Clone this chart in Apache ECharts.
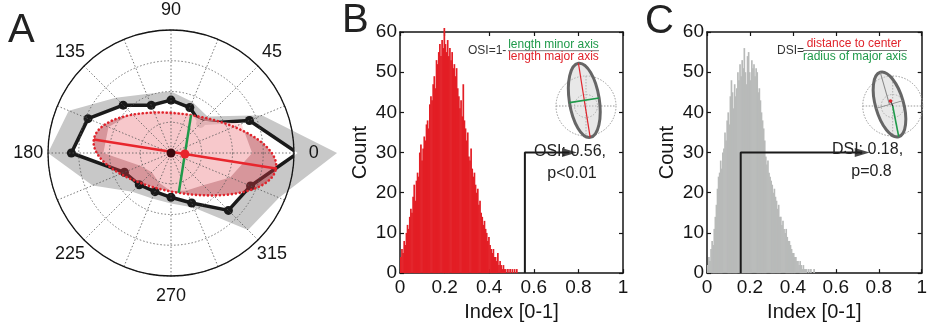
<!DOCTYPE html>
<html><head><meta charset="utf-8">
<script src="https://cdn.jsdelivr.net/npm/echarts@6/dist/echarts.min.js"></script>
<style>html,body{margin:0;padding:0;background:#fff}#c{width:930px;height:327px}</style>
</head><body><div id="c"></div>
<script>
// ================= Panel A : polar tuning plot =================
const directions = [0, 22.5, 45, 67.5, 90, 112.5, 135, 157.5, 180, 202.5, 225, 247.5, 270, 292.5, 315, 337.5];
const responseR  = [1.03, 0.69, 0.34, 0.40, 0.43, 0.42, 0.55, 0.73, 0.81, 0.41, 0.365, 0.34, 0.36, 0.44, 0.66, 0.70];
const bandR      = [1.35, 0.80, 0.42, 0.45, 0.50, 0.52, 0.635, 0.90, 1.00, 0.69, 0.445, 0.40, 0.41, 0.48, 0.886, 0.95];
const coreR      = [0.66, 0.62, 0.37, 0.35, 0.34, 0.37, 0.45, 0.55, 0.55, 0.27, 0.22, 0.26, 0.31, 0.33, 0.37, 0.52];
const ellipseCenter = [0.113, -0.008];   // x, y in radius units
const ellipseSemiMajor = 0.75;
const ellipseSemiMinor = 0.32;
const ellipseAngleDeg = -9;
const angleTickLabels = [0, 45, 90, 135, 180, 225, 270, 315];

// ================= Panels B / C : histograms =================
const binWidth = 0.005;
const osiCounts = [4,6,5,8,7,10,12,11,14,16,15,19,22,18,23,25,24,30,32,28,31,34,33,37,38,36,42,44,43,47,49,46,53,52,55,57,54,58,56,61,57,55,58,54,56,53,55,51,52,49,51,46,44,41,43,39,47,38,36,33,35,29,28,31,26,24,25,22,20,21,17,18,15,14,12,13,11,10,8,9,7,6,5,6,4,4,3,5,2,3,2,1,2,1,1,0,1,0,1,0,1,0,1,0,1];
const dsiCounts = [2,4,3,6,8,7,11,14,17,21,24,25,28,26,30,31,35,33,38,40,37,44,48,45,41,47,44,46,50,48,52,49,53,51,56,50,47,54,55,50,48,53,51,52,49,51,50,45,46,43,40,38,36,33,29,27,28,25,24,23,22,20,21,19,18,16,17,14,14,12,13,11,10,11,9,8,8,7,6,5,5,4,4,3,3,2,3,2,1,2,1,1,1,0,1,0,1,0,0,1];
const osiValue = 0.56, osiArrowEnd = 0.76;
const dsiMarker = 0.157, dsiArrowEnd = 0.723;
const arrowLevel = 30;
const xTicksMax = 1, yTicksMax = 60;

const FONT = '"Liberation Sans", Arial, Helvetica, sans-serif';
const INK = '#151515';

function toPolar(x, y) {
  let a = Math.atan2(y, x) * 180 / Math.PI;
  if (a < 0) a += 360;
  return [Math.hypot(x, y), a];
}
function ellipsePt(t) {
  const phi = ellipseAngleDeg * Math.PI / 180;
  const x = ellipseCenter[0] + ellipseSemiMajor * Math.cos(t) * Math.cos(phi) - ellipseSemiMinor * Math.sin(t) * Math.sin(phi);
  const y = ellipseCenter[1] + ellipseSemiMajor * Math.cos(t) * Math.sin(phi) + ellipseSemiMinor * Math.sin(t) * Math.cos(phi);
  return toPolar(x, y);
}
function polarPolygon(rs, api) { return rs.map((r, i) => api.coord([r, directions[i]])); }

function polygonSeries(rs, fill, z) {
  return { type: 'custom', coordinateSystem: 'polar', polarIndex: 0, z: z, silent: true, data: [[0, 0]],
    renderItem: (p, api) => ({ type: 'polygon', shape: { points: polarPolygon(rs, api) }, style: { fill: fill } }) };
}

function histSeries(counts, color, xi, yi) {
  return { type: 'custom', coordinateSystem: 'cartesian2d', xAxisIndex: xi, yAxisIndex: yi, z: 2, silent: true,
    data: counts.map((c, i) => [i * binWidth, c]),
    renderItem: (p, api) => {
      const x0 = api.value(0), c = api.value(1);
      if (!c) return null;
      const a = api.coord([x0, c]), b = api.coord([x0 + binWidth, 0]);
      return { type: 'rect', shape: { x: a[0], y: a[1], width: b[0] - a[0] + 0.6, height: b[1] - a[1] }, style: { fill: color } };
    } };
}

const dotted = { color: '#555', width: 0.8, type: [1.5, 2] };

function xAx(grid, pos, labels) {
  return { gridIndex: grid, type: 'value', min: 0, max: xTicksMax, interval: 0.2, position: pos,
    name: labels ? 'Index [0-1]' : '', nameLocation: 'middle', nameGap: 20,
    nameTextStyle: { fontSize: 20, color: INK, fontFamily: FONT },
    axisLine: { onZero: false, lineStyle: { color: INK, width: 1.5 } },
    axisTick: { inside: true, length: 4, lineStyle: { color: INK, width: 1.2 } },
    axisLabel: { show: labels, fontSize: 19, color: INK, margin: 5, fontFamily: FONT },
    splitLine: { show: false } };
}
function yAx(grid, pos, labels) {
  return { gridIndex: grid, type: 'value', min: 0, max: yTicksMax, interval: 10, position: pos,
    name: labels ? 'Count' : '', nameLocation: 'middle', nameGap: 30,
    nameTextStyle: { fontSize: 20, color: INK, fontFamily: FONT },
    axisLine: { onZero: false, lineStyle: { color: INK, width: 1.5 } },
    axisTick: { inside: true, length: 4, lineStyle: { color: INK, width: 1.2 } },
    axisLabel: { show: labels, fontSize: 19, color: INK, margin: 3, fontFamily: FONT },
    splitLine: { show: false } };
}

function txt(x, y, text, size, color, align) {
  return { type: 'text', x: x, y: y, z: 50,
    style: { text: text, fill: color, font: size + 'px ' + FONT, align: align || 'center', verticalAlign: 'middle',
             textAlign: align || 'center', textVerticalAlign: 'middle' } };
}
function gline(x1, y1, x2, y2, stroke, w, dash) {
  return { type: 'line', z: 50, shape: { x1, y1, x2, y2 }, style: { stroke: stroke, lineWidth: w, lineDash: dash || null } };
}
const insetDash = [1.5, 1.5];
function insetFrame(cx, cy) {
  return [
    { type: 'circle', z: 49, shape: { cx, cy, r: 30 }, style: { fill: 'none', stroke: '#999', lineWidth: 1, lineDash: insetDash } },
    { type: 'circle', z: 49, shape: { cx, cy, r: 11.5 }, style: { fill: 'none', stroke: '#999', lineWidth: 1, lineDash: insetDash } },
    gline(cx - 30, cy, cx + 30, cy, '#999', 1, insetDash),
    gline(cx, cy - 30, cx, cy + 30, '#999', 1, insetDash)
  ];
}

const chart = echarts.init(document.getElementById('c'), null, { renderer: 'canvas' });

const option = {
  animation: false,
  backgroundColor: '#fff',
  polar: { center: [171, 153], radius: 123 },
  angleAxis: { type: 'value', min: 0, max: 360, interval: 22.5, startAngle: 0, clockwise: false, z: 6,
    axisLine: { lineStyle: { color: INK, width: 1.3 } }, axisTick: { show: false }, axisLabel: { show: false },
    splitLine: { lineStyle: dotted } },
  radiusAxis: { type: 'value', min: 0, max: 1, interval: 0.25, z: 6,
    axisLine: { show: false }, axisTick: { show: false }, axisLabel: { show: false },
    splitLine: { lineStyle: dotted } },
  grid: [
    { left: 400, top: 32, width: 223, height: 249 },
    { left: 707, top: 32, width: 222, height: 249 }
  ],
  xAxis: [xAx(0, 'bottom', true), xAx(0, 'top', false), xAx(1, 'bottom', true), xAx(1, 'top', false)],
  yAxis: [yAx(0, 'left', true), yAx(0, 'right', false), yAx(1, 'left', true), yAx(1, 'right', false)],
  series: [
    polygonSeries(bandR, '#c8c8c8', 1),
    polygonSeries(responseR, '#ffffff', 2),
    { type: 'line', coordinateSystem: 'polar', polarIndex: 0, z: 3, silent: true,
      data: directions.map((a, i) => [responseR[i], a]).concat([[responseR[0], directions[0]]]),
      symbol: 'circle', symbolSize: 9, itemStyle: { color: '#1a1a1a' },
      lineStyle: { color: '#1a1a1a', width: 3.5 } },
    { type: 'custom', coordinateSystem: 'polar', polarIndex: 0, z: 4, silent: true, data: [[0, 0]],
      renderItem: (p, api) => {
        const pts = []; for (let k = 0; k < 120; k++) pts.push(api.coord(ellipsePt(2 * Math.PI * k / 120)));
        return { type: 'polygon', shape: { points: pts }, style: { fill: 'rgba(175,45,55,0.5)' } };
      } },
    polygonSeries(coreR, 'rgba(255,212,215,0.8)', 5),
    { type: 'custom', coordinateSystem: 'polar', polarIndex: 0, z: 7, silent: true, data: [[0, 0]],
      renderItem: (p, api) => {
        const pts = []; for (let k = 0; k < 120; k++) pts.push(api.coord(ellipsePt(2 * Math.PI * k / 120)));
        const m1 = api.coord(ellipsePt(0)), m2 = api.coord(ellipsePt(Math.PI));
        const n1 = api.coord(ellipsePt(Math.PI / 2)), n2 = api.coord(ellipsePt(3 * Math.PI / 2));
        const c = api.coord(toPolar(ellipseCenter[0], ellipseCenter[1]));
        const o = api.coord([0, 0]);
        return { type: 'group', children: [
          { type: 'polygon', shape: { points: pts }, style: { fill: 'none', stroke: '#e0242c', lineWidth: 2.6, lineDash: [0.1, 3.9], lineCap: 'round' } },
          { type: 'line', shape: { x1: m1[0], y1: m1[1], x2: m2[0], y2: m2[1] }, style: { stroke: '#e8262d', lineWidth: 2.5 } },
          { type: 'line', shape: { x1: n1[0], y1: n1[1], x2: n2[0], y2: n2[1] }, style: { stroke: '#1f9a4a', lineWidth: 2.5 } },
          { type: 'circle', shape: { cx: o[0], cy: o[1], r: 4.5 }, style: { fill: '#3a0a0e' } },
          { type: 'circle', shape: { cx: c[0], cy: c[1], r: 4.5 }, style: { fill: '#e8262d' } }
        ] };
      } },
    { type: 'custom', coordinateSystem: 'polar', polarIndex: 0, z: 8, silent: true,
      data: angleTickLabels.map(a => [1.16, a]),
      renderItem: (p, api) => {
        const pt = api.coord([api.value(0), api.value(1)]);
        return { type: 'text', x: pt[0], y: pt[1],
          style: { text: String(api.value(1)), fill: INK, font: '18px ' + FONT, align: 'center', verticalAlign: 'middle' } };
      } },

    histSeries(osiCounts, '#e31e25', 0, 0),
    { type: 'line', xAxisIndex: 0, yAxisIndex: 0, z: 5, silent: true, symbol: 'none',
      data: [[osiValue, 0], [osiValue, arrowLevel], [osiArrowEnd, arrowLevel]], lineStyle: { color: '#1a1a1a', width: 2 } },
    { type: 'scatter', xAxisIndex: 0, yAxisIndex: 0, z: 5, silent: true, symbol: 'triangle', symbolSize: [9, 15], symbolRotate: -90,
      itemStyle: { color: '#1a1a1a' }, data: [[osiArrowEnd, arrowLevel]] },

    histSeries(dsiCounts, '#b8bab9', 2, 2),
    { type: 'line', xAxisIndex: 2, yAxisIndex: 2, z: 5, silent: true, symbol: 'none',
      data: [[dsiMarker, 0], [dsiMarker, arrowLevel], [dsiArrowEnd, arrowLevel]], lineStyle: { color: '#1a1a1a', width: 2 } },
    { type: 'scatter', xAxisIndex: 2, yAxisIndex: 2, z: 5, silent: true, symbol: 'triangle', symbolSize: [9, 15], symbolRotate: -90,
      itemStyle: { color: '#1a1a1a' }, data: [[dsiArrowEnd, arrowLevel]] }
  ],
  graphic: [
    txt(8, 31, 'A', 40, '#222', 'left'),
    txt(342, 21, 'B', 40, '#222', 'left'),
    txt(645, 22, 'C', 40, '#222', 'left'),
    // B annotation
    txt(570, 151.5, 'OSI: 0.56,', 16, '#222'),
    txt(572, 174, 'p<0.01', 16, '#222'),
    txt(468, 51, 'OSI=1-', 12, '#333', 'left'),
    txt(553.5, 44.5, 'length minor axis', 12, '#1f9a4a'),
    gline(508, 50.7, 599, 50.7, '#777', 1),
    txt(553.5, 56.5, 'length major axis', 12, '#e0242c'),
    ...insetFrame(586, 106),
    { type: 'group', x: 584.3, y: 100.3, rotation: 9 * Math.PI / 180, z: 50, children: [
      { type: 'ellipse', z: 50, shape: { cx: 0, cy: 0, rx: 15, ry: 37.5 }, style: { fill: 'rgba(205,205,205,0.45)', stroke: '#666', lineWidth: 3 } },
      { type: 'line', z: 51, shape: { x1: 0, y1: -37.5, x2: 0, y2: 37.5 }, style: { stroke: '#e0242c', lineWidth: 1.2 } },
      { type: 'line', z: 51, shape: { x1: -15, y1: 0, x2: 15, y2: 0 }, style: { stroke: '#1f9a4a', lineWidth: 1.6 } }
    ] },
    // C annotation
    txt(867.5, 150, 'DSI: 0.18,', 16, '#222'),
    txt(871.5, 172, 'p=0.8', 16, '#222'),
    txt(777, 51, 'DSI=', 12, '#333', 'left'),
    txt(854, 44, 'distance to center', 12, '#e0242c'),
    gline(803, 50.5, 907, 50.5, '#777', 1),
    txt(855, 56.5, 'radius of major axis', 12, '#1f9a4a'),
    ...insetFrame(892.7, 106),
    { type: 'group', x: 889.5, y: 104.5, rotation: 16 * Math.PI / 180, z: 50, children: [
      { type: 'ellipse', z: 50, shape: { cx: 0, cy: 0, rx: 14, ry: 33.5 }, style: { fill: 'rgba(205,205,205,0.45)', stroke: '#666', lineWidth: 3 } },
      { type: 'line', z: 51, shape: { x1: 0, y1: -33.5, x2: 0, y2: 0 }, style: { stroke: '#888', lineWidth: 1 } },
      { type: 'line', z: 51, shape: { x1: -14, y1: 0, x2: 14, y2: 0 }, style: { stroke: '#888', lineWidth: 1 } }
    ] },
    gline(892.7, 106, 898.7, 136.7, '#1f9a4a', 1.6),
    gline(890.5, 101, 892.7, 106, '#222', 1.2),
    { type: 'circle', z: 52, shape: { cx: 890.5, cy: 101, r: 1.8 }, style: { fill: '#e0242c' } }
  ]
};
chart.setOption(option);
</script></body></html>
